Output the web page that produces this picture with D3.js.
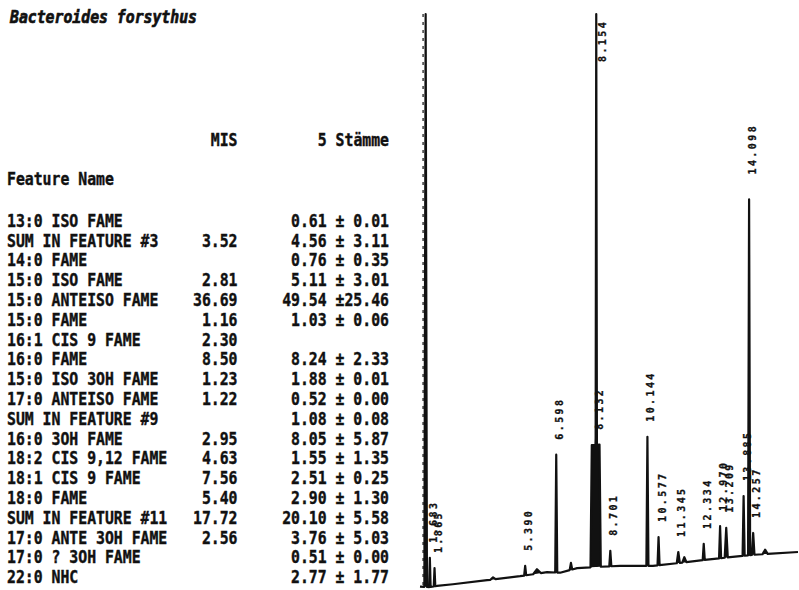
<!DOCTYPE html>
<html>
<head>
<meta charset="utf-8">
<script src="https://cdn.jsdelivr.net/npm/d3@7"></script>
<style>
  body { margin: 0; background: #fff; }
  text { font-family: "DejaVu Sans Mono", monospace; font-weight: bold; fill: #111; white-space: pre; }
</style>
</head>
<body>
<svg id="chart" width="799" height="590"></svg>
<script>
// table data (MIS library entry vs. mean of 5 strains)
const title = 'Bacteroides forsythus';
const features = [
  '13:0 ISO FAME', 'SUM IN FEATURE #3', '14:0 FAME', '15:0 ISO FAME', '15:0 ANTEISO FAME',
  '15:0 FAME', '16:1 CIS 9 FAME', '16:0 FAME', '15:0 ISO 3OH FAME', '17:0 ANTEISO FAME',
  'SUM IN FEATURE #9', '16:0 3OH FAME', '18:2 CIS 9,12 FAME', '18:1 CIS 9 FAME', '18:0 FAME',
  'SUM IN FEATURE #11', '17:0 ANTE 3OH FAME', '17:0 ? 3OH FAME', '22:0 NHC'
];
const misValues = [null, 3.52, null, 2.81, 36.69, 1.16, 2.30, 8.50, 1.23, 1.22,
  null, 2.95, 4.63, 7.56, 5.40, 17.72, 2.56, null, null];
const strainMeans = [0.61, 4.56, 0.76, 5.11, 49.54, 1.03, null, 8.24, 1.88, 0.52,
  1.08, 8.05, 1.55, 2.51, 2.90, 20.10, 3.76, 0.51, 2.77];
const strainSds = [0.01, 3.11, 0.35, 3.01, 25.46, 0.06, null, 2.33, 0.01, 0.00,
  0.08, 5.87, 1.35, 0.25, 1.30, 5.58, 5.03, 0.00, 1.77];

// chromatogram: baseline drift (time in min, signal % full scale)
const baseTimes = [1.3, 1.69, 1.96, 2.58, 3.91, 5.19, 6.24, 6.75, 7.41, 8.18, 9.08, 10.36, 11.41, 12.31, 13.36, 14.25, 16.0];
const baseValues = [0.6, 0.5, 0.7, 1.0, 1.7, 2.4, 3.1, 3.0, 3.8, 4.0, 4.2, 4.2, 4.7, 5.2, 5.7, 6.1, 6.6];

// peaks: retention time, apex signal, half width at base, half width at top, printed label
const peakTimes = [1.52, 1.683, 1.865, 4.14, 5.390, 5.85, 6.598, 7.17, 8.131, 8.154, 8.701, 10.144,
  10.577, 11.345, 11.58, 12.334, 12.970, 13.209, 13.885, 14.098, 14.257, 14.72];
const peakApex = [100, 5.6, 3.8, 2.2, 4.2, 3.6, 23.5, 4.7, 25.2, 100, 6.8, 26.6,
  9.2, 6.6, 5.7, 8.0, 11.1, 10.8, 16.3, 67.8, 9.9, 7.0];
const peakHalfWidth = [0.05, 0.03, 0.03, 0.1, 0.04, 0.15, 0.04, 0.05, 0.2, 0.03, 0.04, 0.04,
  0.04, 0.06, 0.08, 0.04, 0.04, 0.06, 0.04, 0.04, 0.05, 0.1];
const peakTopWidth = [0, 0, 0, 0, 0, 0, 0, 0, 0.15, 0, 0, 0,
  0, 0, 0, 0, 0, 0, 0, 0, 0, 0];
const peakLabels = [null, '1.683', '1.865', null, '5.390', null, '6.598', null, '8.132', '8.154', '8.701', '10.144',
  '10.577', '11.345', null, '12.334', '12.970', '13.209', '13.885', '14.098', '14.257', null];
const markerTime = 1.42;

const svg = d3.select('#chart');
const fmt = d3.format('.2f');

// ---- table ----
const table = svg.append('g')
  .style('stroke', '#111')
  .style('stroke-width', 0.35);
const put = (txt, x, y, anchor = 'start') =>
  table.append('text')
    .attr('transform', `translate(${x},${y}) scale(1,1.16)`)
    .attr('text-anchor', anchor)
    .style('font-size', '14.8px')
    .text(txt);

put(title, 10, 23).style('font-style', 'italic').style('stroke-width', 0.6);
put('MIS', 237.5, 146, 'end');
put('5 Stämme', 389, 146, 'end');
put('Feature Name', 7, 185);

const rowY = d3.scalePoint().domain(d3.range(features.length)).range([226.7, 583.3]);
features.forEach((f, i) => {
  put(f, 7, rowY(i));
  if (misValues[i] !== null) put(fmt(misValues[i]), 237.5, rowY(i), 'end');
  if (strainMeans[i] !== null) {
    put(`${fmt(strainMeans[i])} ±${fmt(strainSds[i]).padStart(5, ' ')}`, 389, rowY(i), 'end');
  }
});

// ---- chromatogram ----
const x = d3.scaleLinear().domain([1.3, 16.0]).range([420, 798]);
const y = d3.scaleLinear().domain([0, 100]).range([590, 14]);
const base = d3.scaleLinear().domain(baseTimes).range(baseValues).clamp(true);

const peaks = peakTimes.map((t, i) => ({
  t, apex: peakApex[i], hw: peakHalfWidth[i], tw: peakTopWidth[i], label: peakLabels[i]
}));

// sample at the base points and at every peak corner
let ts = baseTimes.slice();
peaks.forEach(p => ts.push(p.t - p.hw, p.t - p.tw, p.t, p.t + p.tw, p.t + p.hw));
ts = Array.from(new Set(ts.map(t => +t.toFixed(4)))).sort((a, b) => a - b).filter(t => t >= 1.3 && t <= 16);

const signal = t => {
  let extra = 0;
  peaks.forEach(p => {
    const d = Math.abs(t - p.t);
    if (d >= p.hw) return;
    const h = p.apex - base(p.t);
    const f = d <= p.tw ? 1 : (p.hw - d) / (p.hw - p.tw);
    extra = Math.max(extra, h * f);
  });
  return Math.min(100, base(t) + extra);
};
const trace = ts.map(t => [t, signal(t)]);

// start marker (dotted)
svg.append('line')
  .attr('x1', x(markerTime)).attr('x2', x(markerTime))
  .attr('y1', y(100)).attr('y2', y(0))
  .attr('stroke', '#222').attr('stroke-width', 1.3)
  .attr('stroke-dasharray', '3,5');

svg.append('path')
  .datum(trace)
  .attr('d', d3.area().x(d => x(d[0])).y0(d => y(base(d[0]))).y1(d => y(d[1])))
  .attr('fill', '#111');

svg.append('path')
  .datum(trace)
  .attr('d', d3.line().x(d => x(d[0])).y(d => y(d[1])))
  .attr('fill', 'none')
  .attr('stroke', '#111')
  .attr('stroke-width', 2.2)
  .attr('stroke-linejoin', 'round');

// rotated retention-time labels
svg.append('g')
  .style('stroke', '#111')
  .style('stroke-width', 0.3)
  .selectAll('text')
  .data(peaks.filter(p => p.label))
  .join('text')
  .attr('transform', p => p.apex >= 100 ?
    `translate(${x(p.t) + 10},${y(100) + 48}) rotate(-90)` :
    `translate(${x(p.t) + 7},${y(p.apex) - (p.apex > 50 ? 25 : 15)}) rotate(-90)`)
  .style('font-size', '10px')
  .style('letter-spacing', '2.4px')
  .text(p => p.label);
</script>
</body>
</html>
